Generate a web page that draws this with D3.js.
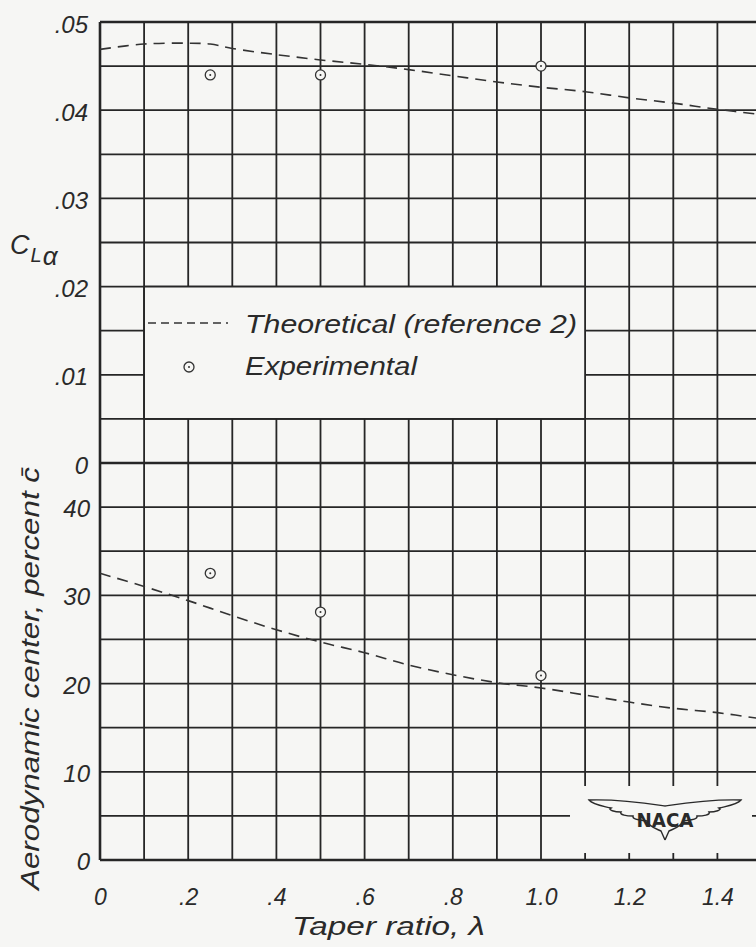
<!DOCTYPE html>
<html>
<head>
<meta charset="utf-8">
<script src="https://cdn.jsdelivr.net/npm/d3@7"></script>
<style>
  html, body { margin: 0; padding: 0; background: #f6f6f4; }
  svg { display: block; }
  text { font-family: "Liberation Sans", "DejaVu Sans", sans-serif; font-style: italic; fill: #2a2a2a; }
</style>
</head>
<body>
<svg id="chart" width="756" height="947"></svg>
<script>
// ---------------- data ----------------
const taperTheory = [0, 0.1, 0.2, 0.25, 0.3, 0.4, 0.5, 0.6, 0.7, 0.8, 0.9, 1.0, 1.1, 1.2, 1.3, 1.4, 1.5];
const claTheory   = [0.0469, 0.0475, 0.0476, 0.0475, 0.0470, 0.0463, 0.0457, 0.0452, 0.0446, 0.0439, 0.0432, 0.0426, 0.0421, 0.0414, 0.0408, 0.0401, 0.0395];

const taperAcTheory = [0, 0.1, 0.2, 0.3, 0.4, 0.5, 0.6, 0.7, 0.8, 0.9, 1.0, 1.1, 1.2, 1.3, 1.4, 1.5];
const acTheory      = [32.5, 31.0, 29.4, 27.7, 26.1, 24.7, 23.5, 22.1, 21.0, 20.1, 19.5, 18.7, 17.9, 17.2, 16.7, 16.0];

const taperExp = [0.25, 0.5, 1.0];
const claExp   = [0.0440, 0.0440, 0.0450];
const acExp    = [32.5, 28.1, 20.9];

const xTickValues = [0, 0.2, 0.4, 0.6, 0.8, 1.0, 1.2, 1.4];
const xTickLabels = ["0", ".2", ".4", ".6", ".8", "1.0", "1.2", "1.4"];
const claTickValues = [0.05, 0.04, 0.03, 0.02, 0.01, 0];
const claTickLabels = [".05", ".04", ".03", ".02", ".01", "0"];
const acTickValues = [40, 30, 20, 10, 0];
const acTickLabels = ["40", "30", "20", "10", "0"];

const legendTheory = "Theoretical (reference 2)";
const legendExp = "Experimental";

// ---------------- scales ----------------
const svg = d3.select("#chart");
const W = 756, H = 947;
const ink = "#262626";
const paper = "#f6f6f4";

const x = d3.scaleLinear().domain([0, 1.6]).range([100, 805.6]);
const yTop = d3.scaleLinear().domain([0, 0.05]).range([463, 22]);
const yBot = d3.scaleLinear().domain([0, 45]).range([860, 463]);

const gridX = d3.range(0, 17).map(i => i / 10);
const gridTop = d3.range(0, 11).map(i => i * 0.005);
const gridBot = d3.range(0, 9).map(i => i * 5);

const g = svg.append("g");

// vertical grid
g.selectAll("line.vx").data(gridX).join("line")
  .attr("x1", d => x(d)).attr("x2", d => x(d))
  .attr("y1", yTop(0.05)).attr("y2", yBot(0))
  .attr("stroke", ink).attr("stroke-width", d => d === 0 ? 2.6 : 1.8);

// horizontal grid, top panel
g.selectAll("line.ht").data(gridTop).join("line")
  .attr("x1", x(0)).attr("x2", W + 10)
  .attr("y1", d => yTop(d)).attr("y2", d => yTop(d))
  .attr("stroke", ink).attr("stroke-width", d => (d === 0 || d === 0.05) ? 2.4 : 1.8);

// horizontal grid, bottom panel
g.selectAll("line.hb").data(gridBot).join("line")
  .attr("x1", x(0)).attr("x2", W + 10)
  .attr("y1", d => yBot(d)).attr("y2", d => yBot(d))
  .attr("stroke", ink).attr("stroke-width", d => d === 0 ? 2.6 : 1.8);

// legend box (masks grid inside)
const lx0 = x(0.1), lx1 = x(1.1), ly0 = yTop(0.02), ly1 = yTop(0.005);
g.append("rect")
  .attr("x", lx0).attr("y", ly0).attr("width", lx1 - lx0).attr("height", ly1 - ly0)
  .attr("fill", paper).attr("stroke", ink).attr("stroke-width", 1.8);

// NACA box (masks grid)
const nx0 = 570, nx1 = 752, ny0 = 786, ny1 = 853;
g.append("rect").attr("x", nx0).attr("y", ny0).attr("width", nx1 - nx0).attr("height", ny1 - ny0)
  .attr("fill", paper);

// ---------------- theory curves ----------------
const dash = "11,7";
const lineTop = d3.line().x(d => x(d[0])).y(d => yTop(d[1])).curve(d3.curveCatmullRom);
const lineBot = d3.line().x(d => x(d[0])).y(d => yBot(d[1])).curve(d3.curveCatmullRom);

g.append("path").datum(taperTheory.map((t, i) => [t, claTheory[i]]))
  .attr("d", lineTop).attr("fill", "none").attr("stroke", "#333")
  .attr("stroke-width", 1.6).attr("stroke-dasharray", dash);

g.append("path").datum(taperAcTheory.map((t, i) => [t, acTheory[i]]))
  .attr("d", lineBot).attr("fill", "none").attr("stroke", "#333")
  .attr("stroke-width", 1.6).attr("stroke-dasharray", dash);

// ---------------- experimental points ----------------
function marker(sel) {
  sel.append("circle").attr("r", 5).attr("fill", paper).attr("stroke", "#333").attr("stroke-width", 1.3);
  sel.append("circle").attr("r", 1).attr("fill", "#333");
}
g.selectAll("g.et").data(taperExp.map((t, i) => [t, claExp[i]])).join("g")
  .attr("transform", d => `translate(${x(d[0])},${yTop(d[1])})`).call(marker);
g.selectAll("g.eb").data(taperExp.map((t, i) => [t, acExp[i]])).join("g")
  .attr("transform", d => `translate(${x(d[0])},${yBot(d[1])})`).call(marker);

// ---------------- legend content ----------------
g.append("line").attr("x1", 148).attr("x2", 228).attr("y1", 323).attr("y2", 323)
  .attr("stroke", "#333").attr("stroke-width", 1.4).attr("stroke-dasharray", "8,5");
g.append("text").attr("x", 245).attr("y", 333).attr("font-size", 26)
  .attr("textLength", 332).attr("lengthAdjust", "spacingAndGlyphs").text(legendTheory);
g.append("g").attr("transform", "translate(189,367)").call(marker);
g.append("text").attr("x", 245).attr("y", 375).attr("font-size", 25)
  .attr("textLength", 172).attr("lengthAdjust", "spacingAndGlyphs").text(legendExp);

// ---------------- axes labels ----------------
const xAxis = d3.axisBottom(x).tickValues(xTickValues)
  .tickFormat((d, i) => xTickLabels[i]).tickSize(0).tickPadding(29);
const xa = svg.append("g").attr("transform", `translate(0,${yBot(0)})`).call(xAxis);
xa.select(".domain").remove();
xa.selectAll("text").attr("font-size", 23).attr("fill", ink)
  .style("font-family", '"Liberation Sans", sans-serif').style("font-style", "italic");

const yaTop = svg.append("g").attr("transform", `translate(${x(0)},0)`)
  .call(d3.axisLeft(yTop).tickValues(claTickValues).tickFormat((d, i) => claTickLabels[i]).tickSize(0).tickPadding(12));
yaTop.select(".domain").remove();
yaTop.selectAll("text").attr("font-size", 24).attr("dy", "0.42em").attr("fill", ink)
  .style("font-family", '"Liberation Sans", sans-serif').style("font-style", "italic");

const yaBot = svg.append("g").attr("transform", `translate(${x(0)},0)`)
  .call(d3.axisLeft(yBot).tickValues(acTickValues).tickFormat((d, i) => acTickLabels[i]).tickSize(0).tickPadding(10));
yaBot.select(".domain").remove();
yaBot.selectAll("text").attr("font-size", 24).attr("dy", "0.4em").attr("fill", ink)
  .style("font-family", '"Liberation Sans", sans-serif').style("font-style", "italic");

// axis titles
svg.append("text").attr("x", 292).attr("y", 935).attr("font-size", 26)
  .attr("textLength", 193).attr("lengthAdjust", "spacingAndGlyphs").text("Taper ratio, λ");

svg.append("text").attr("transform", "translate(39,890) rotate(-90)")
  .attr("font-size", 25).attr("textLength", 423).attr("lengthAdjust", "spacingAndGlyphs")
  .text("Aerodynamic center, percent c\u0304");

const cl = svg.append("text").attr("x", 10).attr("y", 254).attr("font-size", 27);
cl.append("tspan").text("C");
cl.append("tspan").attr("font-size", 20).attr("dy", 8).attr("dx", 1).text("L");
cl.append("tspan").attr("font-size", 26).attr("dy", 3).attr("dx", 1).text("α");

// ---------------- NACA logo ----------------
const logo = svg.append("g").attr("transform", "translate(665,803)");
const wingR = "M0,3 C20,0 45,-4 76,-3 C72,2 62,3 54,5 C58,7 50,9 44,9 C46,12 38,13 32,13 C33,17 24,17 18,18 C16,24 8,26 4,28 L0,37";
const wingL = "M0,3 C-20,0 -45,-4 -76,-3 C-72,2 -62,3 -54,5 C-58,7 -50,9 -44,9 C-46,12 -38,13 -32,13 C-33,17 -24,17 -18,18 C-16,24 -8,26 -4,28 L0,37";
[wingR, wingL].forEach(p => logo.append("path").attr("d", p).attr("fill", "none").attr("stroke", "#2a2a2a").attr("stroke-width", 1.4));
logo.append("text").attr("x", 0).attr("y", 24).attr("text-anchor", "middle")
  .attr("font-size", 20).style("font-style", "normal").style("font-weight", "bold")
  .style("font-family", '"DejaVu Sans", sans-serif').attr("textLength", 57).attr("lengthAdjust", "spacingAndGlyphs").text("NACA");
</script>
</body>
</html>
